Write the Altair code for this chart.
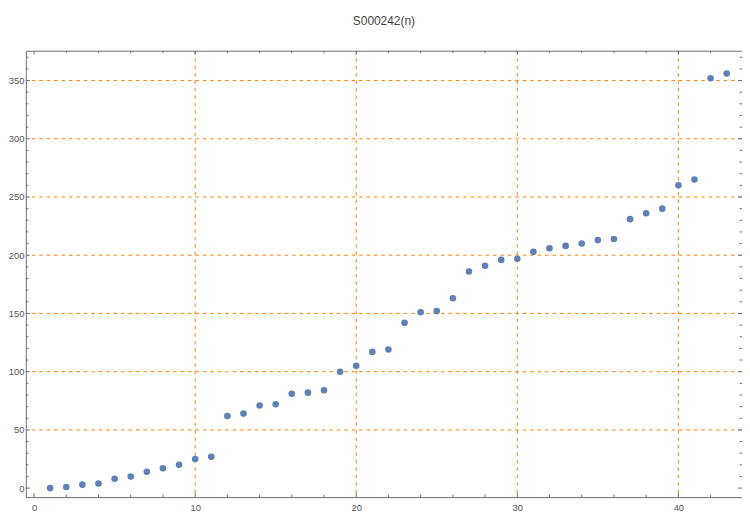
import altair as alt
import pandas as pd

# data
n_values = list(range(1, 44))
s_values = [0, 1, 3, 4, 8, 10, 14, 17, 20, 25, 27, 62, 64, 71, 72, 81, 82, 84, 100, 105,
            117, 119, 142, 151, 152, 163, 186, 191, 196, 197, 203, 206, 208, 210, 213, 214,
            231, 236, 240, 260, 265, 352, 356]
x_tick_labels = [0, 10, 20, 30, 40]
y_tick_labels = [0, 50, 100, 150, 200, 250, 300, 350]
x_grid = [10, 20, 30, 40]
y_grid = [50, 100, 150, 200, 250, 300, 350]
x_minor = [v for v in range(0, 44, 2) if v % 10 != 0]
y_minor = [v for v in range(0, 376, 10) if v % 50 != 0]

X_DOM = [-0.51, 43.95]
Y_DOM = [-7.7, 375.6]
W, H = 722, 450
GRID_COLOR = "#FF8000"
FRAME_COLOR = "#6e6e6e"
LABEL_COLOR = "#555555"

xs = alt.Scale(domain=X_DOM, nice=False, zero=False)
ys = alt.Scale(domain=Y_DOM, nice=False, zero=False)

x_axis = alt.Axis(values=x_tick_labels, grid=False, ticks=False, domain=False,
                  labelPadding=6, labelFontSize=9.5, labelColor=LABEL_COLOR,
                  labelFont="Liberation Sans", title=None)
y_axis = alt.Axis(values=y_tick_labels, grid=False, ticks=False, domain=False,
                  labelPadding=2, labelFontSize=9.5, labelColor=LABEL_COLOR,
                  labelFont="Liberation Sans", title=None)

df = pd.DataFrame({"n": n_values, "s": s_values})

xgrid = alt.Chart(pd.DataFrame({"v": x_grid})).mark_rule(
    color=GRID_COLOR, strokeDash=[3.5, 4], strokeWidth=1
).encode(x=alt.X("v:Q", scale=xs, axis=x_axis, title=None))

ygrid = alt.Chart(pd.DataFrame({"v": y_grid})).mark_rule(
    color=GRID_COLOR, strokeDash=[3.5, 4], strokeWidth=1
).encode(y=alt.Y("v:Q", scale=ys, axis=y_axis, title=None))

def xticks(vals, size):
    d = pd.DataFrame({"v": vals})
    top = alt.Chart(d).mark_rule(color=FRAME_COLOR).encode(
        x=alt.X("v:Q", scale=xs, axis=x_axis, title=None), y=alt.value(0), y2=alt.value(size))
    bot = alt.Chart(d).mark_rule(color=FRAME_COLOR).encode(
        x=alt.X("v:Q", scale=xs, axis=x_axis, title=None), y=alt.value(H), y2=alt.value(H - size))
    return [top, bot]

def yticks(vals, size):
    d = pd.DataFrame({"v": vals})
    left = alt.Chart(d).mark_rule(color=FRAME_COLOR).encode(
        y=alt.Y("v:Q", scale=ys, axis=y_axis, title=None), x=alt.value(0), x2=alt.value(size))
    right = alt.Chart(d).mark_rule(color=FRAME_COLOR).encode(
        y=alt.Y("v:Q", scale=ys, axis=y_axis, title=None), x=alt.value(W), x2=alt.value(W - size))
    return [left, right]

points = alt.Chart(df).mark_circle(size=44, color="#5E81B5", opacity=1).encode(
    x=alt.X("n:Q", scale=xs, axis=x_axis, title=None),
    y=alt.Y("s:Q", scale=ys, axis=y_axis, title=None),
)

layers = [xgrid, ygrid] + xticks(x_tick_labels, 4) + xticks(x_minor, 2.5) \
    + yticks(y_tick_labels, 4) + yticks(y_minor, 2.5) + [points]

chart = alt.layer(*layers).properties(
    width=W, height=H,
    title=alt.TitleParams("S000242(n)", fontSize=12, fontWeight="normal",
                          font="Liberation Sans", color="#444444", offset=22),
    autosize=alt.AutoSizeParams(type="none"),
    padding={"left": 18, "top": 41, "right": 0, "bottom": 20},
).configure_view(stroke=FRAME_COLOR, strokeWidth=1)

chart.save("out.html", embed_options={"renderer": "svg", "actions": False})
